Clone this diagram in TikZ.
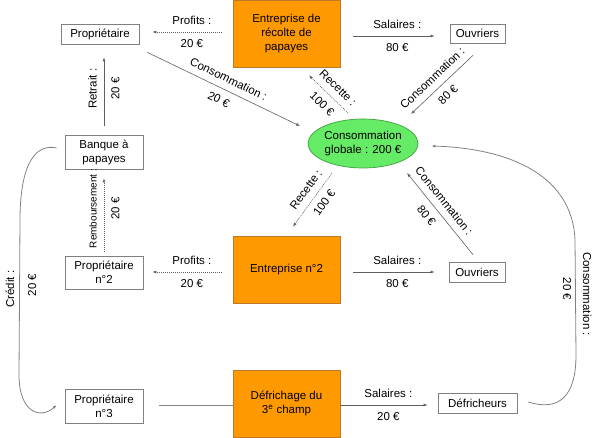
\documentclass[tikz,border=0pt]{standalone}
\usepackage{fontspec}
\setmainfont{Liberation Sans}
\usetikzlibrary{arrows.meta,calc,shapes.geometric}
\definecolor{orangebox}{RGB}{255,153,0}
\definecolor{orangeline}{RGB}{190,120,40}
\definecolor{greenfill}{RGB}{102,235,102}
\definecolor{greenline}{RGB}{60,160,60}
\definecolor{boxgray}{RGB}{128,128,128}
\definecolor{linegray}{RGB}{95,95,95}
\definecolor{curvegray}{RGB}{130,130,130}
\begin{document}
\begin{tikzpicture}[x=1pt,y=-1pt,
  every node/.style={font=\fontsize{11.5}{14}\selectfont},
  wbox/.style={draw=boxgray, line width=0.7pt, fill=white, minimum width=78pt, inner sep=0pt, align=center},
  obox/.style={draw=orangeline, line width=0.7pt, fill=orangebox, minimum width=107pt, minimum height=67pt, inner sep=0pt, align=center},
  conn/.style={draw=linegray, line width=0.6pt, -{Latex[length=4pt,width=3pt]}},
  dots/.style={conn, dash pattern=on 1pt off 1pt},
  plainline/.style={draw=curvegray, line width=0.7pt},
  curvearr/.style={draw=curvegray, line width=0.8pt, -{Latex[length=4pt,width=3pt]}},
  lbla/.style={sloped, anchor=south, inner xsep=0pt, inner ysep=7pt, text height=8pt, text depth=0pt},
  lblb/.style={sloped, anchor=north, inner xsep=0pt, inner ysep=7pt, text height=8pt, text depth=0pt},
  lblv/.style={inner sep=0pt, text height=8pt, text depth=0pt},
]
\useasboundingbox (0,0) rectangle (599,437);

% boxes
\node[obox] (e1) at (286.5,33.5) {Entreprise de\\récolte de\\papayes};
\node[obox] (e2) at (286.5,269.5) {Entreprise n°2};
\node[obox] (e3) at (286.5,403.5) {Défrichage du\\3\textsuperscript{e} champ};

\node[wbox, minimum height=20pt] (p1) at (100,34) {Propriétaire};
\node[wbox, minimum height=34pt] (bank) at (104,152) {Banque à\\papayes};
\node[wbox, minimum height=33pt] (p2) at (104,272.5) {Propriétaire\\n°2};
\node[wbox, minimum height=34pt] (p3) at (104,406) {Propriétaire\\n°3};
\node[wbox, minimum width=55pt, minimum height=19pt] (o1) at (477.5,33.5) {Ouvriers};
\node[wbox, minimum width=56pt, minimum height=20pt] (o2) at (477,272) {Ouvriers};
\node[wbox, minimum width=79pt, minimum height=20pt] (df) at (477.5,403) {Défricheurs};
\node[ellipse, draw=greenline, line width=0.7pt, fill=greenfill, minimum width=110pt, minimum height=49pt, inner sep=0pt, align=center] (g) at (363,143.5) {Consommation\\globale : 200 €};

% top row
\draw[conn] ($(e1.east)+(13,2.5)$) -- node[lbla,pos=0.54]{Salaires :} node[lblb,pos=0.54]{80 €} ($(o1.west)+(-15,2.5)$);
\draw[dots] ($(e1.west)+(-11,-1.5)$) -- node[lbla,pos=0.43]{Profits :} node[lblb,pos=0.43]{20 €} ($(p1.east)+(13,-2)$);
\draw[conn] ($(bank.north)+(0,-9)$) -- node[lbla,pos=0.54]{Retrait :} node[lblb,pos=0.54]{20 €} ($(bank.north |- p1.south)+(0,13)$);
\draw[conn] ($(p1.south east)+(8,8)$) -- node[lbla,pos=0.5]{Consommation :} node[lblb,pos=0.5]{20 €} ($(g.center)+(-63,-17.5)$);
\draw[dots] ($(g.center)+(-15,-30.5)$) -- node[lbla,pos=0.46]{Recette :} node[lblb,pos=0.46]{100 €} ($(e1.south)+(22.5,8)$);
\draw[conn] ($(o1.south)+(-4.5,12)$) -- node[lbla,pos=0.53]{Consommation :} node[lblb,pos=0.53]{80 €} ($(g.center)+(48,-29.5)$);

% middle row
\draw[dots] ($(g.center)+(-31,29.5)$) -- node[lbla,pos=0.435]{Recette :} node[lblb,pos=0.435]{100 €} ($(e2.north)+(6.5,-9)$);
\draw[conn] ($(o2.north)+(-4,-7)$) -- node[lbla,pos=0.57]{Consommation :} node[lblb,pos=0.57]{80 €} ($(g.center)+(44,29.5)$);
\draw[dots] ($(p2.north)+(0,-4)$) -- node[lbla,pos=0.59,font=\fontsize{10}{12}\selectfont]{Remboursement :} node[lblb,pos=0.59]{20 €} ($(bank.south)+(0,9)$);
\draw[dots] ($(e2.west)+(-11,2.5)$) -- node[lbla,pos=0.43]{Profits :} node[lblb,pos=0.43]{20 €} ($(p2.east)+(9,-0.5)$);
\draw[conn] ($(e2.east)+(13,2.5)$) -- node[lbla,pos=0.54]{Salaires :} node[lblb,pos=0.54]{80 €} ($(o2.west)+(-14,0)$);

% bottom row
\draw[plainline] ($(p3.east)+(16,-1)$) -- ($(e3.west)+(0,1.5)$);
\draw[conn] ($(e3.east)+(0,1.5)$) -- node[lbla,pos=0.55]{Salaires :} node[lblb,pos=0.55]{20 €} ($(df.west)+(-10,2)$);

% curves
\draw[curvearr] ($(bank.west)+(-8,-4)$) .. controls (35,143) and (20,165) .. (20,220) -- (19,375) .. controls (19,412) and (40,420) .. ($(p3.west)+(-8,-1)$);
\node[lblv, rotate=90] (credA) at (10,289) {Crédit :};
\node[lblv, rotate=90] (credB) at (32,285) {20 €};

\draw[curvearr] ($(df.east)+(11,-1)$) .. controls (560,412) and (576,395) .. (576,355) -- (575,240) .. controls (572,170) and (500,148) .. ($(g.east)+(13,2.5)$);
\node[lblv, rotate=-90] (consA) at (587,294) {Consommation :};
\node[lblv, rotate=-90] (consB) at (567,289) {20 €};
\end{tikzpicture}
\end{document}
